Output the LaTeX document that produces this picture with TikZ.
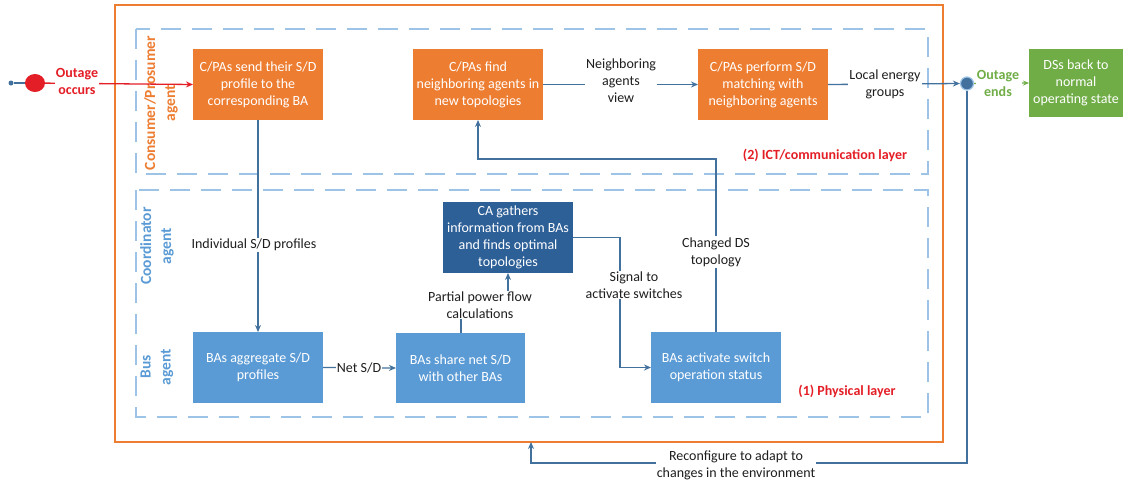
\documentclass[tikz,border=0pt]{standalone}
\usepackage{fontspec}
\setmainfont{Carlito}
\usetikzlibrary{arrows.meta,shapes.geometric}
\definecolor{boxorange}{RGB}{237,125,49}
\definecolor{boxblue}{RGB}{91,155,213}
\definecolor{boxdark}{RGB}{46,96,152}
\definecolor{boxgreen}{RGB}{112,173,71}
\definecolor{flowblue}{RGB}{65,113,156}
\definecolor{layerblue}{RGB}{157,195,230}
\definecolor{alertred}{RGB}{228,30,38}
\definecolor{txt}{RGB}{30,30,30}
\begin{document}
\begin{tikzpicture}[x=1pt,y=-1pt,
  font=\fontsize{14}{17}\selectfont,
  stepbox/.style={rectangle, minimum width=130pt, minimum height=71pt,
    align=center, inner sep=0pt, outer sep=0pt, text=white},
  orangebox/.style={stepbox, fill=boxorange},
  bluebox/.style={stepbox, fill=boxblue},
  darkbox/.style={stepbox, fill=boxdark},
  greenbox/.style={stepbox, fill=boxgreen, minimum width=94pt, minimum height=68pt},
  layer/.style={draw=layerblue, line width=2.2pt, dash pattern=on 20pt off 11pt},
  flow/.style={draw=flowblue, line width=1.3pt},
  tip/.style={-{Stealth[length=7pt,width=6pt]}},
  lbl/.style={fill=white, inner sep=1pt, align=center, text=txt},
  agentlbl/.style={rotate=90, align=center, font=\fontsize{15.5}{20}\selectfont\bfseries},
  redlbl/.style={text=alertred, font=\fontsize{14}{17}\selectfont\bfseries},
]
\useasboundingbox (0,0) rectangle (1124,485);

% layers
\draw[layer] (136,29) rectangle (928,174);
\draw[layer] (136,190) rectangle (928,417);
\node[draw=boxorange, line width=2.5pt, minimum width=828pt, minimum height=437pt,
  inner sep=0pt, outer sep=0pt] (outer) at (529,223.5) {};

% agent labels
\node[agentlbl, text=boxorange] (cpagent) at (161,103) {Consumer/Prosumer\\agent};
\node[agentlbl, text=boxblue] (coagent) at (157,246) {Coordinator\\agent};
\node[agentlbl, text=boxblue] (busagent) at (157,367) {Bus\\agent};

% boxes
\node[orangebox] (send) at (258,84.5) {C/PAs send their S/D\\profile to the\\corresponding BA};
\node[orangebox] (find) at (478,84.5) {C/PAs find\\neighboring agents in\\new topologies};
\node[orangebox] (match) at (763,84.5) {C/PAs perform S/D\\matching with\\neighboring agents};
\node[greenbox] (back) at (1076,83) {DSs back to\\normal\\operating state};
\node[bluebox] (agg) at (258,367.5) {BAs aggregate S/D\\profiles};
\node[bluebox, minimum width=129pt, minimum height=70pt] (share) at (460.5,368) {BAs share net S/D\\with other BAs};
\node[darkbox] (ca) at (508,237.5) {CA gathers\\information from BAs\\and finds optimal\\topologies};
\node[bluebox] (act) at (716,367.5) {BAs activate switch\\operation status};

% outage start
\node[circle, fill=flowblue, inner sep=0pt, minimum size=5pt] (src) at (11,83) {};
\node[ellipse, fill=alertred, inner sep=0pt, minimum width=20pt, minimum height=18pt] (outage) at (35,83) {};
\draw[flow] (src) -- (outage);
\draw[draw=alertred, line width=1.3pt, -{Stealth[length=7pt,width=6pt]}] (outage) -- (send.west);
\node[redlbl, fill=white, inner sep=1pt, align=center] (occ) at (77,81) {Outage\\occurs};

% outage end
\node[circle, fill=flowblue, draw=layerblue, line width=1.2pt, inner sep=0pt, minimum size=13pt] (endc) at (967,83.5) {};
\draw[draw=boxgreen, line width=1.3pt, dashed, -{Stealth[length=6pt,width=5pt]}] (endc.east) -- (back.west);
\node[fill=white, inner sep=1pt, align=center, text=boxgreen, font=\fontsize{14}{17}\selectfont\bfseries] (ends) at (998,83.5) {Outage\\ends};

% connectors
\draw[flow, tip] (send.south) -- (agg.north);
\node[lbl] (l1) at (254,245) {Individual S/D profiles};

\draw[flow, tip] (agg.east) -- (share.west);
\node[lbl, inner sep=0.5pt] (l2) at (359,368) {Net S/D};

\coordinate (ppf) at (461,305);
\draw[flow, tip] (share.north -| ppf) -- (ppf) -| (ca.south);
\node[lbl] (l3) at (480,305) {Partial power flow\\calculations};

\coordinate (sig) at (620,237.5);
\draw[flow, tip] (ca.east) -- (sig) |- (act.west);
\node[lbl] (l4) at (634,285) {Signal to\\activate switches};

\coordinate (chg) at (716,159);
\draw[flow, tip] (act.north) -- (chg) -| (find.south);
\node[lbl] (l5) at (716,252) {Changed DS\\topology};

\draw[flow, tip] (find.east) -- (match.west);
\node[lbl] (l6) at (621,81) {Neighboring\\agents\\view};

\draw[flow, tip] (match.east) -- (endc.west);
\node[lbl] (l7) at (885,84) {Local energy\\groups};

\coordinate (fbc) at (531,463);
\draw[flow, tip] (endc.south) |- (fbc) -- (fbc |- outer.south);
\node[lbl] (l8) at (736,465) {Reconfigure to adapt to\\changes in the environment};

% layer titles
\node[redlbl] (ict) at (825,155) {(2) ICT/communication layer};
\node[redlbl] (phys) at (847,391) {(1) Physical layer};
\end{tikzpicture}
\end{document}
